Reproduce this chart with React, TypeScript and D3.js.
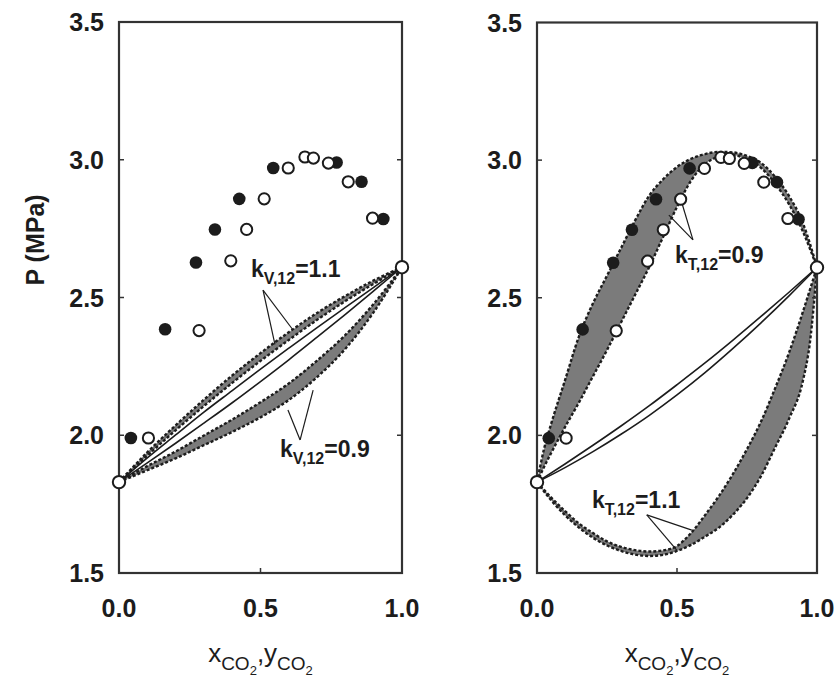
import React from "react";
import * as d3 from "d3";

// ---- measured points (mole fraction CO2, pressure MPa) ----
const pureX = [0, 1];
const pureP = [1.83, 2.61];
const filledX = [0.042, 0.163, 0.272, 0.339, 0.425, 0.545, 0.769, 0.857, 0.934];
const filledP = [1.99, 2.385, 2.627, 2.747, 2.858, 2.97, 2.99, 2.92, 2.785];
const openX = [0.104, 0.283, 0.395, 0.451, 0.513, 0.598, 0.657, 0.687, 0.74, 0.81, 0.896];
const openP = [1.99, 2.38, 2.633, 2.747, 2.858, 2.97, 3.01, 3.006, 2.988, 2.92, 2.788];

// ---- left panel: k_V,12 curves ----
const gridV = [0, 0.1, 0.2, 0.3, 0.4, 0.5, 0.6, 0.7, 0.8, 0.9, 1.0];
const kV11Bubble = [1.83, 1.938, 2.036, 2.129, 2.217, 2.298, 2.374, 2.444, 2.506, 2.562, 2.61];
const kV11Dew = [1.83, 1.926, 2.018, 2.106, 2.19, 2.27, 2.346, 2.419, 2.487, 2.55, 2.61];
const kV10Bubble = [1.83, 1.918, 2.001, 2.084, 2.162, 2.24, 2.316, 2.391, 2.464, 2.537, 2.61];
const kV10Dew = [1.83, 1.9, 1.971, 2.044, 2.118, 2.195, 2.274, 2.356, 2.439, 2.524, 2.61];
const kV09Bubble = [1.83, 1.888, 1.941, 1.999, 2.057, 2.12, 2.188, 2.271, 2.364, 2.477, 2.61];
const kV09Dew = [1.83, 1.873, 1.916, 1.964, 2.012, 2.065, 2.128, 2.211, 2.314, 2.447, 2.61];

// ---- right panel: k_T,12 curves ----
const kT10Bubble = [1.83, 1.896, 1.964, 2.034, 2.107, 2.184, 2.263, 2.346, 2.432, 2.52, 2.61];
const kT10Dew = [1.83, 1.883, 1.941, 2.004, 2.072, 2.147, 2.228, 2.316, 2.409, 2.507, 2.61];

const gridT09 = [0, 0.025, 0.05, 0.1, 0.15, 0.2, 0.25, 0.3, 0.35, 0.4, 0.45, 0.5, 0.55, 0.6, 0.65, 0.7, 0.75, 0.8, 0.85, 0.9, 0.95, 1.0];
const kT09Bubble = [1.83, 1.95, 2.04, 2.2, 2.36, 2.48, 2.58, 2.68, 2.78, 2.87, 2.93, 2.975, 3.005, 3.022, 3.03, 3.028, 3.015, 2.99, 2.94, 2.87, 2.77, 2.61];
const kT09Dew = [1.83, 1.885, 1.935, 2.03, 2.12, 2.215, 2.31, 2.41, 2.51, 2.61, 2.72, 2.83, 2.925, 2.985, 3.012, 3.018, 3.003, 2.972, 2.915, 2.84, 2.74, 2.61];

const gridT11 = [0, 0.05, 0.1, 0.15, 0.2, 0.25, 0.3, 0.35, 0.4, 0.45, 0.5, 0.55, 0.6, 0.65, 0.7, 0.75, 0.8, 0.85, 0.9, 0.95, 0.975, 1.0];
const kT11Upper = [1.83, 1.775, 1.725, 1.68, 1.645, 1.615, 1.595, 1.583, 1.578, 1.582, 1.598, 1.645, 1.71, 1.78, 1.86, 1.95, 2.05, 2.17, 2.3, 2.45, 2.53, 2.61];
const kT11Lower = [1.83, 1.765, 1.71, 1.665, 1.628, 1.6, 1.58, 1.567, 1.562, 1.566, 1.58, 1.602, 1.632, 1.665, 1.712, 1.772, 1.852, 1.955, 2.06, 2.2, 2.34, 2.61];

// ---- axes ----
const yTicks = [1.5, 2.0, 2.5, 3.0, 3.5];
const xTicks = [0, 0.5, 1.0];

const FONT = "'Liberation Sans', Arial, Helvetica, sans-serif";
const INK = "#1c1c1c";

type Band = { grid: number[]; upper: number[]; lower: number[] };
type Pair = { grid: number[]; a: number[]; b: number[] };
type Label = { at: [number, number]; sub: string; value: string };
type Pointer = { from: [number, number]; to: [number, number][] };

type PanelProps = {
  left: number;
  right: number;
  top: number;
  bottom: number;
  bands: Band[];
  solid: Pair;
  labels: Label[];
  pointers: Pointer[];
};

function Panel({ left, right, top, bottom, bands, solid, labels, pointers }: PanelProps) {
  const x = d3.scaleLinear().domain([0, 1]).range([left, right]);
  const y = d3.scaleLinear().domain([1.5, 3.5]).range([bottom, top]);

  const area = (b: Band) =>
    d3
      .area<number>()
      .curve(d3.curveMonotoneX)
      .x((g) => x(g))
      .y0((_, i) => y(b.lower[i]))
      .y1((_, i) => y(b.upper[i]))(b.grid) || "";

  const line = (grid: number[], vals: number[]) =>
    d3
      .line<number>()
      .curve(d3.curveMonotoneX)
      .x((g) => x(g))
      .y((_, i) => y(vals[i]))(grid) || "";

  return (
    <g>
      {/* shaded two-phase envelopes */}
      {bands.map((b, i) => (
        <g key={"band" + i}>
          <path d={area(b)} fill="#7b7b7b" stroke="none" />
          <path d={line(b.grid, b.upper)} fill="none" stroke={INK} strokeWidth={2.4} strokeDasharray="3 2" />
          <path d={line(b.grid, b.lower)} fill="none" stroke={INK} strokeWidth={2.4} strokeDasharray="3 2" />
        </g>
      ))}

      {/* reference curves (k = 1) */}
      <path d={line(solid.grid, solid.a)} fill="none" stroke={INK} strokeWidth={1.6} />
      <path d={line(solid.grid, solid.b)} fill="none" stroke={INK} strokeWidth={1.6} />

      {/* pointers from labels to curves */}
      {pointers.map((p, i) =>
        p.to.map((t, j) => (
          <line
            key={"ptr" + i + "-" + j}
            x1={x(p.from[0])}
            y1={y(p.from[1])}
            x2={x(t[0])}
            y2={y(t[1])}
            stroke={INK}
            strokeWidth={1.2}
          />
        ))
      )}

      {/* data points */}
      {filledX.map((v, i) => (
        <circle key={"f" + i} cx={x(v)} cy={y(filledP[i])} r={6.3} fill={INK} />
      ))}
      {openX.map((v, i) => (
        <circle key={"o" + i} cx={x(v)} cy={y(openP[i])} r={5.6} fill="#fff" stroke={INK} strokeWidth={2} />
      ))}

      {/* frame */}
      <rect x={left} y={top} width={right - left} height={bottom - top} fill="none" stroke="#333" strokeWidth={2.2} />

      {/* pure-component vapour pressures */}
      {pureX.map((v, i) => (
        <circle key={"p" + i} cx={x(v)} cy={y(pureP[i])} r={6.2} fill="#fff" stroke={INK} strokeWidth={2} />
      ))}

      {/* ticks */}
      {yTicks.slice(1, -1).map((t) => (
        <g key={"yt" + t}>
          <line x1={left} x2={left + 5} y1={y(t)} y2={y(t)} stroke="#333" strokeWidth={1.5} />
          <line x1={right} x2={right - 5} y1={y(t)} y2={y(t)} stroke="#333" strokeWidth={1.5} />
        </g>
      ))}
      {xTicks.slice(1, -1).map((t) => (
        <line key={"xt" + t} x1={x(t)} x2={x(t)} y1={bottom} y2={bottom - 5} stroke="#333" strokeWidth={1.5} />
      ))}

      {/* tick labels */}
      {yTicks.map((t) => (
        <text
          key={"yl" + t}
          x={left - 15}
          y={y(t)}
          dy="0.36em"
          textAnchor="end"
          fontFamily={FONT}
          fontWeight="bold"
          fontSize={25}
          fill={INK}
        >
          {t.toFixed(1)}
        </text>
      ))}
      {xTicks.map((t) => (
        <text
          key={"xl" + t}
          x={x(t)}
          y={617}
          textAnchor="middle"
          fontFamily={FONT}
          fontWeight="bold"
          fontSize={25}
          fill={INK}
        >
          {t.toFixed(1)}
        </text>
      ))}

      {/* parameter labels */}
      {labels.map((l, i) => (
        <text
          key={"lab" + i}
          x={x(l.at[0])}
          y={y(l.at[1])}
          fontFamily={FONT}
          fontWeight="bold"
          fontSize={23}
          fill={INK}
        >
          k
          <tspan fontSize={16} dy={7}>
            {l.sub}
          </tspan>
          <tspan dy={-7}>{l.value}</tspan>
        </text>
      ))}

      {/* x-axis title */}
      <text x={(left + right) / 2} y={662} textAnchor="middle" fontFamily={FONT} fontSize={26} fill={INK}>
        x
        <tspan fontSize={19} dy={8}>CO</tspan>
        <tspan fontSize={13} dy={5}>2</tspan>
        <tspan dy={-13}>,y</tspan>
        <tspan fontSize={19} dy={8}>CO</tspan>
        <tspan fontSize={13} dy={5}>2</tspan>
      </text>
    </g>
  );
}

export default function App() {
  return (
    <svg
      width={838}
      height={695}
      viewBox="0 0 838 695"
      style={{ position: "absolute", left: 0, top: 0, background: "#fff" }}
    >
      <rect x={0} y={0} width={838} height={695} fill="#fff" />

      <Panel
        left={119}
        right={402}
        top={22}
        bottom={573}
        bands={[
          { grid: gridV, upper: kV11Bubble, lower: kV11Dew },
          { grid: gridV, upper: kV09Bubble, lower: kV09Dew },
        ]}
        solid={{ grid: gridV, a: kV10Bubble, b: kV10Dew }}
        labels={[
          { at: [0.466, 2.574], sub: "V,12", value: "=1.1" },
          { at: [0.569, 1.921], sub: "V,12", value: "=0.9" },
        ]}
        pointers={[
          { from: [0.509, 2.527], to: [[0.551, 2.33], [0.615, 2.382]] },
          { from: [0.64, 1.983], to: [[0.597, 2.092], [0.686, 2.164]] },
        ]}
      />

      <Panel
        left={537}
        right={817}
        top={22.5}
        bottom={573}
        bands={[
          { grid: gridT09, upper: kT09Bubble, lower: kT09Dew },
          { grid: gridT11, upper: kT11Upper, lower: kT11Lower },
        ]}
        solid={{ grid: gridV, a: kT10Bubble, b: kT10Dew }}
        labels={[
          { at: [0.493, 2.626], sub: "T,12", value: "=0.9" },
          { at: [0.196, 1.736], sub: "T,12", value: "=1.1" },
        ]}
        pointers={[
          { from: [0.557, 2.71], to: [[0.471, 2.8], [0.511, 2.866]] },
          { from: [0.392, 1.711], to: [[0.553, 1.656], [0.499, 1.583]] },
        ]}
      />

      {/* y-axis title */}
      <text
        transform="translate(44,240) rotate(-90)"
        textAnchor="middle"
        fontFamily={FONT}
        fontWeight="bold"
        fontSize={25}
        fill={INK}
      >
        P (MPa)
      </text>
    </svg>
  );
}
